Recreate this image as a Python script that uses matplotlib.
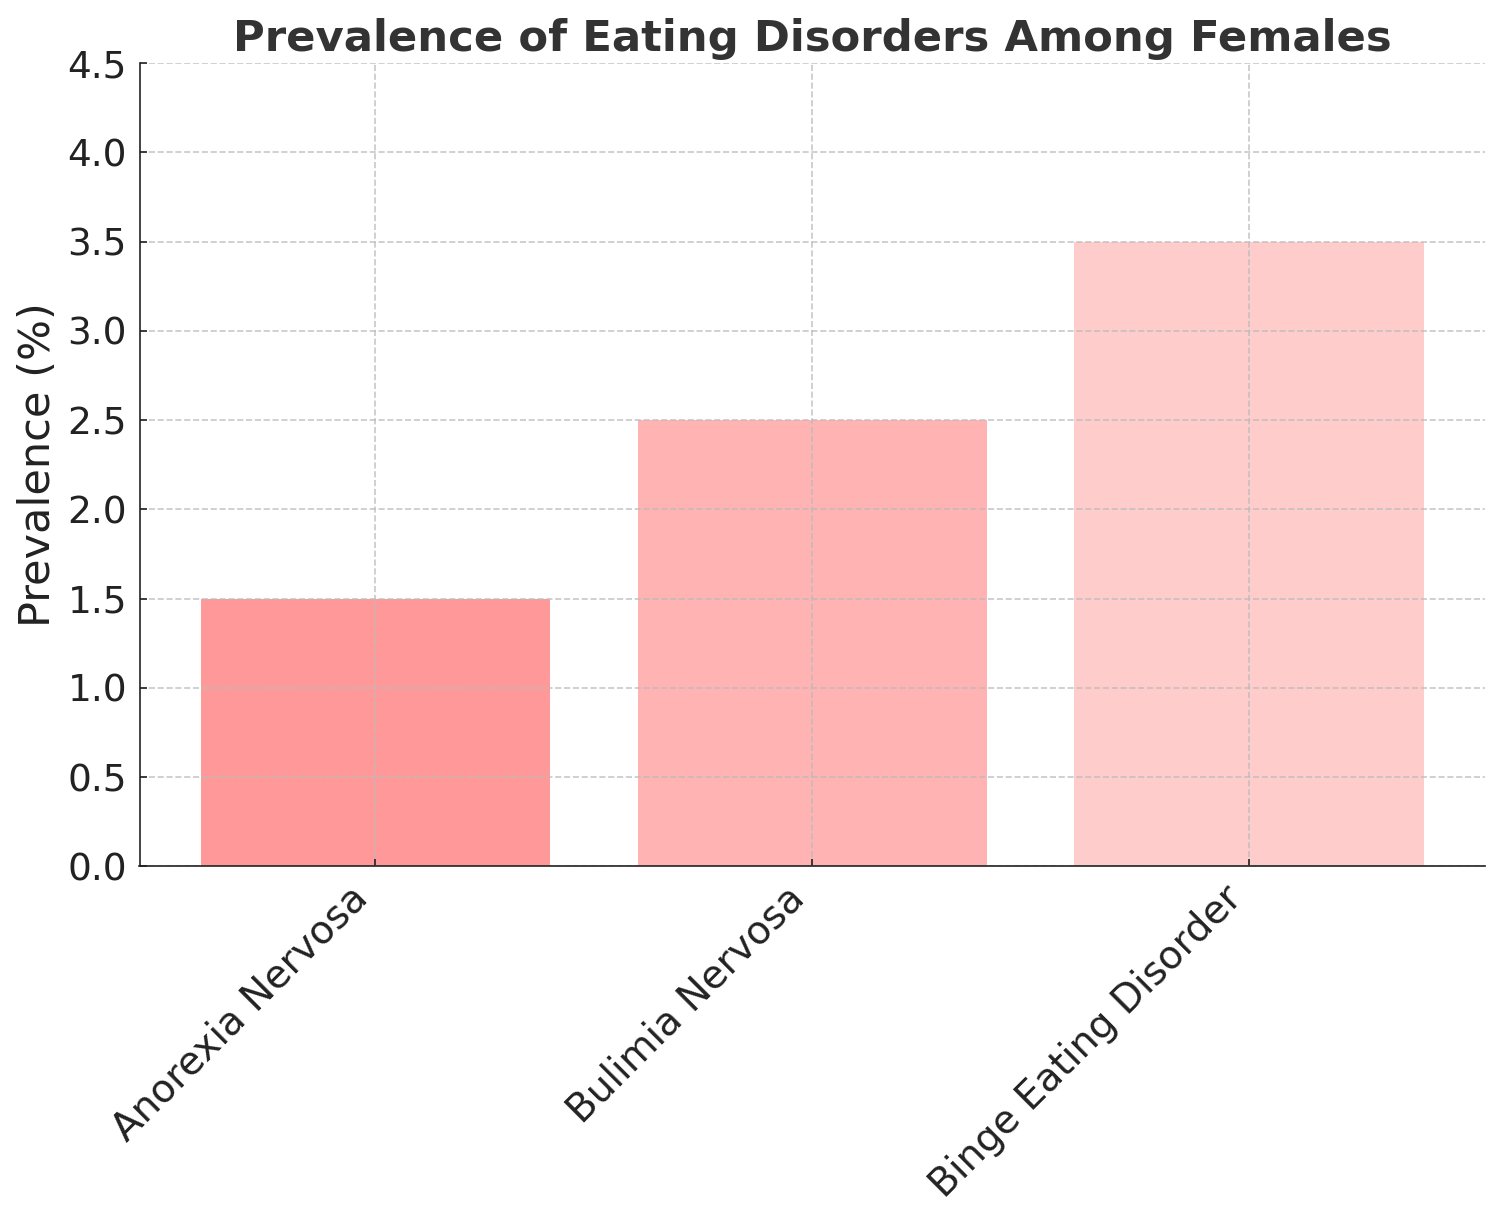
import matplotlib
matplotlib.use("Agg")
import matplotlib.pyplot as plt

disorders = ["Anorexia Nervosa", "Bulimia Nervosa", "Binge Eating Disorder"]
prevalence = [1.5, 2.5, 3.5]
bar_colors = ["#FF9999", "#FFB3B3", "#FFCCCC"]

fig, ax = plt.subplots(figsize=(10, 8.1), dpi=150)
ax.bar(disorders, prevalence, color=bar_colors, width=0.8)

ax.set_title("Prevalence of Eating Disorders Among Females", fontsize=20.8,
             fontweight="bold", color="#333333", pad=6)
ax.set_ylabel("Prevalence (%)", fontsize=20.7, color="#222222", labelpad=4)
ax.set_ylim(0, 4.5)
ax.set_yticks([0, 0.5, 1.0, 1.5, 2.0, 2.5, 3.0, 3.5, 4.0, 4.5])
ax.tick_params(axis="y", direction="in", labelsize=18, colors="#222222", pad=6)
ax.tick_params(axis="x", direction="in", labelsize=18.7, colors="#222222", pad=6)
plt.setp(ax.get_xticklabels(), rotation=45, ha="right")

ax.grid(True, linestyle="--", color="#BBBBBB", alpha=0.8, linewidth=0.8)
ax.spines["top"].set_visible(False)
ax.spines["right"].set_visible(False)
ax.spines["left"].set_color("#222222")
ax.spines["bottom"].set_color("#222222")

fig.subplots_adjust(left=0.093, right=0.99, top=0.948, bottom=0.287)
fig.savefig("out.png", dpi=150)
